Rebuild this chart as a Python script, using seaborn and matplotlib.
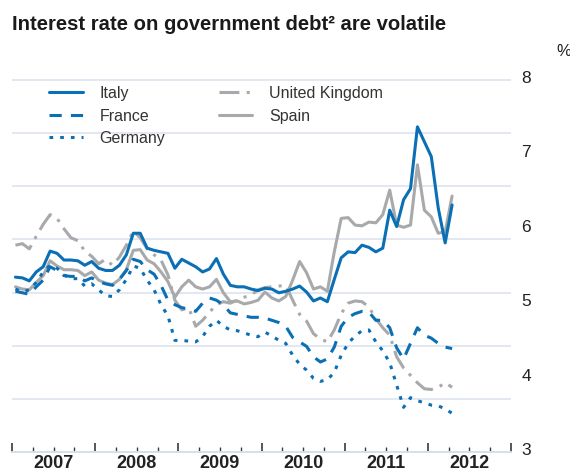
import numpy as np
import pandas as pd
import matplotlib
matplotlib.use("Agg")
import matplotlib.pyplot as plt
import seaborn as sns
from matplotlib.lines import Line2D

# ---------------- data (monthly, Jan 2007 - Apr 2012) ----------------
start_month = "2007-01"
n_months = 64

italy = [5.31, 5.30, 5.26, 5.38, 5.45, 5.66, 5.63, 5.54, 5.54, 5.53,
         5.47, 5.52, 5.43, 5.40, 5.40, 5.47, 5.61, 5.90, 5.90, 5.70,
         5.67, 5.65, 5.63, 5.43, 5.55, 5.50, 5.45, 5.38, 5.42, 5.56,
         5.35, 5.20, 5.18, 5.18, 5.15, 5.13, 5.16, 5.15, 5.10, 5.12,
         5.15, 5.19, 5.11, 4.99, 5.03, 4.98, 5.28, 5.57, 5.65, 5.64,
         5.74, 5.71, 5.65, 5.70, 6.21, 5.99, 6.35, 6.50, 7.33, 7.13,
         6.93, 6.24, 5.77, 6.28]

france = [5.12, 5.10, 5.08, 5.18, 5.27, 5.45, 5.40, 5.33, 5.32, 5.32,
          5.26, 5.30, 5.25, 5.22, 5.20, 5.28, 5.40, 5.55, 5.52, 5.41,
          5.35, 5.20, 5.00, 4.94, 4.90, 4.88, 4.85, 4.96, 5.03, 5.00,
          4.94, 4.83, 4.81, 4.79, 4.77, 4.77, 4.76, 4.73, 4.70, 4.65,
          4.50, 4.44, 4.38, 4.24, 4.17, 4.21, 4.37, 4.65, 4.77, 4.82,
          4.85, 4.84, 4.73, 4.73, 4.63, 4.36, 4.21, 4.42, 4.63, 4.53,
          4.49, 4.42, 4.37, 4.35]

germany = [5.15, 5.11, 5.14, 5.24, 5.38, 5.47, 5.43, 5.34, 5.29, 5.29,
           5.19, 5.22, 5.14, 5.06, 5.05, 5.14, 5.28, 5.46, 5.43, 5.27,
           5.14, 4.94, 4.79, 4.46, 4.46, 4.45, 4.44, 4.51, 4.65, 4.73,
           4.65, 4.60, 4.59, 4.56, 4.53, 4.51, 4.57, 4.52, 4.46, 4.42,
           4.26, 4.14, 4.06, 3.95, 3.91, 3.93, 4.03, 4.26, 4.42, 4.52,
           4.59, 4.60, 4.44, 4.32, 4.16, 3.86, 3.56, 3.69, 3.65, 3.62,
           3.59, 3.58, 3.54, 3.48]

united_kingdom = [5.74, 5.76, 5.69, 5.86, 6.02, 6.15, 6.10, 5.96, 5.84, 5.80,
                  5.66, 5.59, 5.49, 5.55, 5.47, 5.58, 5.74, 5.93, 5.84, 5.69,
                  5.61, 5.54, 5.34, 5.00, 4.87, 4.90, 4.65, 4.73, 4.84, 4.94,
                  4.98, 4.96, 5.00, 5.04, 5.07, 5.14, 5.17, 5.18, 5.19, 5.20,
                  5.00, 4.81, 4.72, 4.55, 4.48, 4.44, 4.60, 4.82, 4.96, 4.99,
                  4.98, 4.91, 4.75, 4.63, 4.53, 4.24, 4.09, 3.99, 3.89, 3.81,
                  3.80, 3.83, 3.89, 3.83]

spain = [5.18, 5.15, 5.14, 5.24, 5.33, 5.53, 5.46, 5.41, 5.41, 5.40,
         5.33, 5.38, 5.27, 5.23, 5.21, 5.28, 5.41, 5.67, 5.68, 5.54,
         5.49, 5.38, 5.25, 5.04, 5.18, 5.27, 5.18, 5.15, 5.18, 5.28,
         5.10, 4.98, 4.99, 4.95, 4.97, 5.00, 5.11, 5.03, 4.99, 5.05,
         5.27, 5.52, 5.37, 5.15, 5.18, 5.12, 5.65, 6.10, 6.11, 6.01,
         6.00, 6.05, 6.04, 6.15, 6.48, 6.01, 5.98, 6.01, 6.82, 6.21,
         6.12, 5.90, 5.92, 6.40]

countries = ["Italy", "France", "Germany", "United Kingdom", "Spain"]
series = [italy, france, germany, united_kingdom, spain]
year_labels = ["2007", "2008", "2009", "2010", "2011", "2012"]
y_tick_values = [3, 4, 5, 6, 7, 8]
title = "Interest rate on government debt\u00b2 are volatile"

# ---------------- table ----------------
months = pd.period_range(start_month, periods=n_months, freq="M")
t = months.year + (months.month - 0.5) / 12.0
df = pd.concat(
    [pd.DataFrame({"t": t, "rate": s, "country": c}) for c, s in zip(countries, series)],
    ignore_index=True,
)

# ---------------- styles ----------------
BLUE = "#0a6fb5"
GRAY = "#a8a9ab"
palette = {"Italy": BLUE, "France": BLUE, "Germany": BLUE,
           "United Kingdom": GRAY, "Spain": GRAY}
dashes = {"Italy": "", "France": (4, 3), "Germany": (1.2, 2.3),
          "United Kingdom": (6.5, 2.4, 1.0, 2.4), "Spain": ""}
draw_order = ["United Kingdom", "Spain", "Germany", "France", "Italy"]
LW = 2.2

sns.set_theme(style="white")
plt.rcParams["font.family"] = ["Liberation Sans", "DejaVu Sans"]

W, H = 570, 473
fig = plt.figure(figsize=(W / 100, H / 100), dpi=100)
ax = fig.add_axes([12 / W, 1 - 452 / H, 499 / W, 375 / H])

sns.lineplot(data=df, x="t", y="rate", hue="country", style="country",
             hue_order=draw_order, style_order=draw_order,
             palette=palette, dashes=dashes, linewidth=LW,
             estimator=None, sort=False, legend=False, ax=ax)

# y axis on the right
ylo, yhi = 2.96, 8.0
ax.set_ylim(ylo, yhi)
ax.yaxis.tick_right()
ax.set_yticks(y_tick_values)
ax.set_yticklabels([str(v) for v in y_tick_values])
ax.set_yticks(np.linspace(ylo, 7.96, 8), minor=True)
ax.tick_params(axis="y", which="both", length=0, pad=7.5, labelsize=12.5,
               labelcolor="#222222", right=False, left=False)
ax.grid(False)
ax.yaxis.grid(True, which="minor", color="#e1e5f1", linewidth=1.3)
ax.set_axisbelow(True)
ax.set_ylabel("")
ax.set_xlabel("")

# x axis
years = [int(y) for y in year_labels]
ax.set_xlim(years[0], years[-1] + 1)
ax.set_xticks(list(range(years[0], years[-1] + 2)))
ax.set_xticklabels([])
ax.set_xticks(np.arange(years[0], years[-1] + 1.001, 0.25), minor=True)
ax.tick_params(axis="x", which="major", direction="in", length=6.5, width=1.2,
               color="#3a3a3a", bottom=True)
ax.tick_params(axis="x", which="minor", direction="in", length=3.3, width=1.0,
               color="#3a3a3a", bottom=True)
for y, lab in zip(years, year_labels):
    ax.text(y + 0.5, -0.031, lab, transform=ax.get_xaxis_transform(),
            ha="center", va="center", fontsize=13, fontweight="bold", color="#222222")

for s in ["top", "left", "right"]:
    ax.spines[s].set_visible(False)
ax.spines["bottom"].set_color("#d6dcea")
ax.spines["bottom"].set_linewidth(1.3)

# title and unit
fig.text(12 / W, 1 - 29.8 / H, title, fontsize=14.6, fontweight="bold",
         color="#1a1a1a", va="baseline", ha="left")
fig.text(556 / W, 1 - 52 / H, "%", fontsize=12, color="#222222", va="center", ha="left")

# legend
handles = [Line2D([], [], color=palette[c], linewidth=LW,
                  linestyle="-" if dashes[c] == "" else (0, dashes[c]))
           for c in countries]
fig.legend(handles, countries, loc="upper left",
           bbox_to_anchor=(49 / W, 1 - 86 / H), ncol=2, frameon=False,
           fontsize=11.5, handlelength=2.1, handletextpad=1.05,
           columnspacing=3.35, labelspacing=0.47, borderpad=0,
           borderaxespad=0, labelcolor="#333333")

fig.savefig("out.png", dpi=100)
